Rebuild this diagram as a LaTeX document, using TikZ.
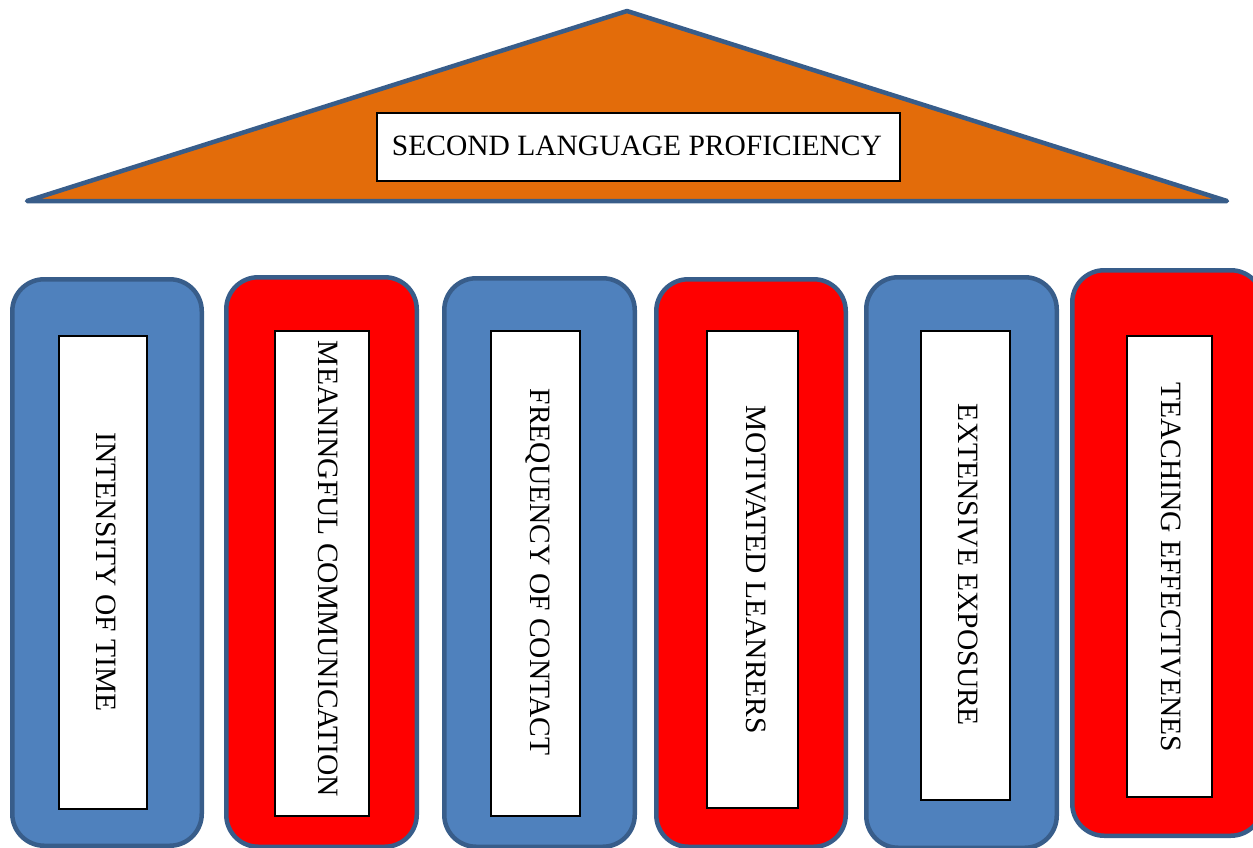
\documentclass[tikz,border=0pt]{standalone}
\usepackage{fontspec}
\setmainfont{Liberation Serif}
\definecolor{pillarblue}{RGB}{79,129,189}
\definecolor{edgeblue}{RGB}{56,93,138}
\definecolor{rooforange}{RGB}{227,108,10}
\definecolor{pillarred}{RGB}{255,0,0}
\tikzset{
  roof/.style={fill=rooforange, draw=edgeblue, line width=4.5pt, line join=round, line cap=round},
  pillar/.style={draw=edgeblue, line width=4.5pt, rounded corners=32pt, inner sep=0pt},
  bluepillar/.style={pillar, fill=pillarblue},
  redpillar/.style={pillar, fill=pillarred},
  labelbox/.style={draw=black, fill=white, line width=1.2pt, inner sep=0pt},
  caption/.style={font=\fontsize{29.5}{32}\selectfont, inner sep=0pt},
  vcaption/.style={caption, rotate=-90},
}
\begin{document}
\begin{tikzpicture}[x=1pt, y=-1pt]
\useasboundingbox (0,0) rectangle (1253,848);
\clip (0,0) rectangle (1253,848);

% roof
\coordinate (roofL) at (27,201);
\coordinate (apex) at (627,11);
\coordinate (roofR) at (1227,201);
\draw[roof] (roofL) -- (apex) -- (roofR) -- cycle;
\node[labelbox, minimum width=523pt, minimum height=68pt] (titlebox) at (638.5,147) {};
\node[caption] (title) at (637,146) {SECOND LANGUAGE PROFICIENCY};

% pillars
\node[bluepillar, minimum width=189.5pt, minimum height=566.5pt] (p1) at (107,562.5) {};
\node[redpillar,  minimum width=190.5pt, minimum height=569.5pt] (p2) at (321.5,562) {};
\node[bluepillar, minimum width=190.5pt, minimum height=568.5pt] (p3) at (539.5,562.5) {};
\node[redpillar,  minimum width=189.5pt, minimum height=567.5pt] (p4) at (751,563) {};
\node[bluepillar, minimum width=190.5pt, minimum height=570.5pt] (p5) at (961.5,562.5) {};
\node[redpillar,  minimum width=190.5pt, minimum height=565.5pt] (p6) at (1167.5,553) {};

% label boxes inside the pillars
\node[labelbox, minimum width=88pt, minimum height=473pt] (b1) at (103,572.5) {};
\node[labelbox, minimum width=94pt, minimum height=485pt] (b2) at (322,573.5) {};
\node[labelbox, minimum width=89pt, minimum height=485pt] (b3) at (535.5,573.5) {};
\node[labelbox, minimum width=91pt, minimum height=477pt] (b4) at (752.5,569.5) {};
\node[labelbox, minimum width=89pt, minimum height=469pt] (b5) at (965.5,565.5) {};
\node[labelbox, minimum width=85pt, minimum height=461pt] (b6) at (1169.5,566.5) {};

% vertical captions
\node[vcaption] (t1) at (106,572) {INTENSITY OF TIME};
\node[vcaption] (t2) at (328,569) {MEANINGFUL COMMUNICATION};
\node[vcaption] (t3) at (538,572) {FREQUENCY OF CONTACT};
\node[vcaption] (t4) at (756,570) {MOTIVATED LEANRERS};
\node[vcaption] (t5) at (968,565) {EXTENSIVE EXPOSURE};
\node[vcaption] (t6) at (1171,567) {TEACHING EFFECTIVENES};
\end{tikzpicture}
\end{document}
